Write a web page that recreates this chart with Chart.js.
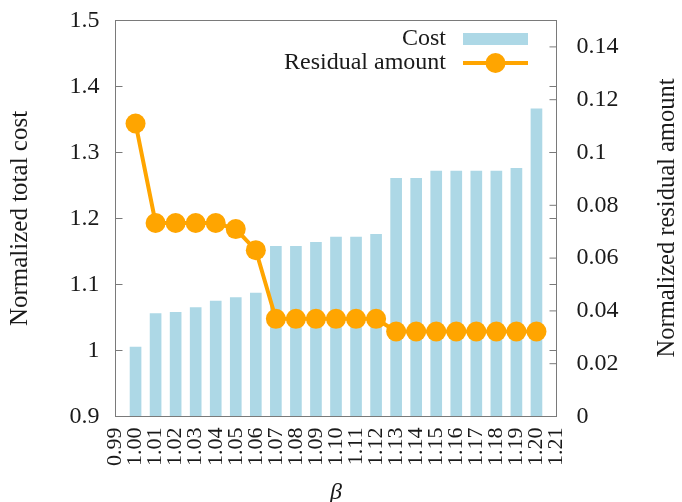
<!DOCTYPE html>
<html>
<head>
<meta charset="utf-8">
<script src="https://cdn.jsdelivr.net/npm/chart.js@4/dist/chart.umd.min.js"></script>
<style>
  html, body { margin: 0; padding: 0; background: #fff; }
  #c { display: block; }
</style>
</head>
<body>
<canvas id="c" width="682" height="502"></canvas>
<script>
// β values along the horizontal axis
const betaValues = [1.00, 1.01, 1.02, 1.03, 1.04, 1.05, 1.06, 1.07, 1.08, 1.09, 1.10,
                    1.11, 1.12, 1.13, 1.14, 1.15, 1.16, 1.17, 1.18, 1.19, 1.20];
// Normalized total cost (left axis, bars)
const costValues = [1.005, 1.056, 1.058, 1.065, 1.075, 1.080, 1.087, 1.158, 1.158, 1.164, 1.172,
                    1.172, 1.176, 1.261, 1.261, 1.272, 1.272, 1.272, 1.272, 1.276, 1.366];
// Normalized residual amount (right axis, line)
const residualValues = [0.111, 0.0733, 0.0733, 0.0733, 0.0733, 0.071, 0.063, 0.037, 0.037, 0.037, 0.037,
                        0.037, 0.037, 0.0322, 0.0322, 0.0322, 0.0322, 0.0322, 0.0322, 0.0322, 0.0322];
// Tick values
const xTickValues = [0.99, 1.00, 1.01, 1.02, 1.03, 1.04, 1.05, 1.06, 1.07, 1.08, 1.09, 1.10,
                     1.11, 1.12, 1.13, 1.14, 1.15, 1.16, 1.17, 1.18, 1.19, 1.20, 1.21];
const costTicks = [0.9, 1.0, 1.1, 1.2, 1.3, 1.4, 1.5];
const residualTicks = [0, 0.02, 0.04, 0.06, 0.08, 0.10, 0.12, 0.14];

const FONT = 'Liberation Serif';
const TEXT = '#1a1a1a';
const FRAME = '#7a7a7a';
const BAR_COLOR = '#add8e6';
const LINE_COLOR = '#ffa500';

const fmt = v => String(+v.toFixed(2));

// fixed box sizes; label overhang is left to the outer padding
const fixSize = (w, h) => s => {
  if (w !== null) s.width = w;
  if (h !== null) s.height = h;
  s.paddingTop = 0; s.paddingBottom = 0; s.paddingLeft = 0; s.paddingRight = 0;
};

// Frame, inward tick marks, right-hand title and the in-plot legend
const decorations = {
  id: 'decorations',
  afterDraw(chart) {
    const { ctx, chartArea: a, scales } = chart;
    ctx.save();
    ctx.strokeStyle = FRAME;
    ctx.lineWidth = 1;
    ctx.strokeRect(a.left, a.top, a.right - a.left, a.bottom - a.top);

    const tick = 7;
    ctx.beginPath();
    costTicks.forEach(v => {
      const y = scales.y.getPixelForValue(v);
      if (v > costTicks[0] && v < costTicks[costTicks.length - 1]) {
        ctx.moveTo(a.left, y); ctx.lineTo(a.left + tick, y);
        ctx.moveTo(a.right, y); ctx.lineTo(a.right - tick, y);
      }
    });
    residualTicks.forEach(v => {
      if (v === 0) return;
      const y = scales.y1.getPixelForValue(v);
      ctx.moveTo(a.right, y); ctx.lineTo(a.right - tick, y);
    });
    ctx.stroke();

    // right-hand axis title, reading bottom to top
    ctx.fillStyle = TEXT;
    ctx.font = '24.5px "' + FONT + '"';
    ctx.textAlign = 'center';
    ctx.textBaseline = 'middle';
    ctx.save();
    ctx.translate(668, 218);
    ctx.rotate(-Math.PI / 2);
    ctx.fillText('Normalized residual amount', 0, 0);
    ctx.restore();

    // legend: label right-aligned, sample to its right
    const ds = chart.data.datasets;
    const textRight = 446, sx0 = 463, sx1 = 528;
    ctx.font = '24px "' + FONT + '"';
    ctx.textAlign = 'right';
    ctx.fillText(ds[0].label, textRight, 39);
    ctx.fillStyle = BAR_COLOR;
    ctx.fillRect(sx0, 33, sx1 - sx0, 12);

    ctx.fillStyle = TEXT;
    ctx.fillText(ds[1].label, textRight, 63);
    ctx.strokeStyle = LINE_COLOR;
    ctx.lineWidth = 4;
    ctx.beginPath();
    ctx.moveTo(sx0, 63); ctx.lineTo(sx1, 63);
    ctx.stroke();
    ctx.fillStyle = LINE_COLOR;
    ctx.beginPath();
    ctx.arc((sx0 + sx1) / 2, 63, 10, 0, Math.PI * 2);
    ctx.fill();
    ctx.restore();
  }
};

new Chart(document.getElementById('c'), {
  data: {
    datasets: [
      {
        type: 'bar',
        label: 'Cost',
        data: betaValues.map((b, i) => ({ x: b, y: costValues[i] })),
        backgroundColor: BAR_COLOR,
        borderWidth: 0,
        barThickness: 11,
        yAxisID: 'y',
        order: 2
      },
      {
        type: 'line',
        label: 'Residual amount',
        data: betaValues.map((b, i) => ({ x: b, y: residualValues[i] })),
        borderColor: LINE_COLOR,
        backgroundColor: LINE_COLOR,
        borderWidth: 4,
        pointRadius: 10,
        pointBorderWidth: 0,
        pointBackgroundColor: LINE_COLOR,
        tension: 0,
        fill: false,
        yAxisID: 'y1',
        order: 1
      }
    ]
  },
  options: {
    responsive: false,
    animation: false,
    devicePixelRatio: 1,
    layout: { padding: { top: 20.5, left: 0, right: 0, bottom: 0 } },
    plugins: { legend: { display: false }, tooltip: { enabled: false } },
    scales: {
      x: {
        type: 'linear',
        min: 0.99,
        max: 1.21,
        offset: false,
        grid: { display: false, drawTicks: false },
        border: { display: false },
        afterBuildTicks: s => { s.ticks = xTickValues.map(v => ({ value: v })); },
        afterFit: fixSize(null, 85.5),
        ticks: {
          autoSkip: false, minRotation: 90, maxRotation: 90, padding: 11,
          color: TEXT, font: { family: FONT, size: 22 },
          callback: v => v.toFixed(2)
        },
        title: {
          display: true, text: 'β', color: TEXT,
          font: { family: FONT, size: 24, style: 'italic', lineHeight: 0.8 },
          padding: { top: 0, bottom: 0 }
        }
      },
      y: {
        position: 'left',
        min: 0.9,
        max: 1.5,
        grid: { display: false, drawTicks: false },
        border: { display: false },
        afterBuildTicks: s => { s.ticks = costTicks.map(v => ({ value: v })); },
        afterFit: fixSize(115.5, null),
        ticks: { padding: 16, color: TEXT, font: { family: FONT, size: 24 }, callback: v => fmt(v) },
        title: {
          display: true, text: 'Normalized total cost', color: TEXT,
          font: { family: FONT, size: 25, lineHeight: 1.2 },
          padding: { top: 5, bottom: 0 }
        }
      },
      y1: {
        position: 'right',
        min: 0,
        max: 0.15,
        grid: { display: false, drawTicks: false },
        border: { display: false },
        afterBuildTicks: s => { s.ticks = residualTicks.map(v => ({ value: v })); },
        afterFit: fixSize(125.5, null),
        ticks: { padding: 20, color: TEXT, font: { family: FONT, size: 24 }, callback: v => fmt(v) }
      }
    }
  },
  plugins: [decorations]
});
</script>
</body>
</html>
